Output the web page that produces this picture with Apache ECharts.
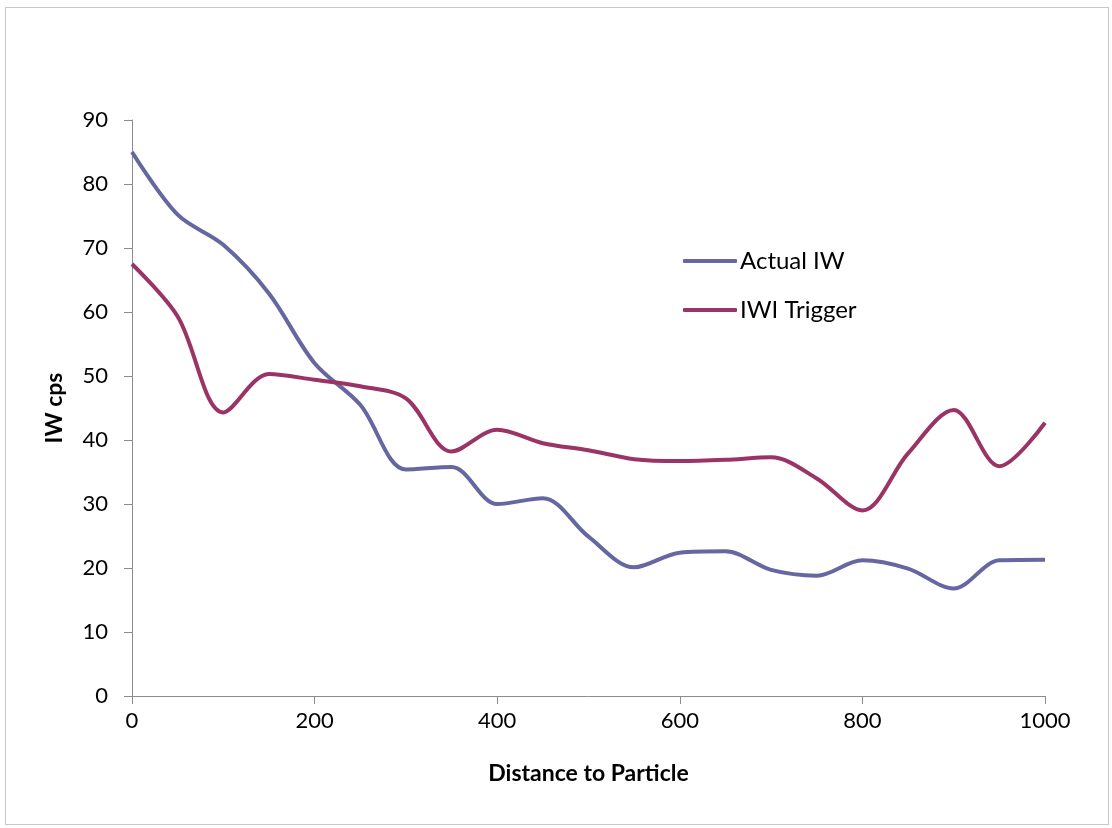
<!DOCTYPE html>
<html>
<head>
<meta charset="utf-8">
<script src="https://cdn.jsdelivr.net/npm/echarts@6/dist/echarts.min.js"></script>
<style>
html,body{margin:0;padding:0;background:#fff;}
#frame{position:absolute;left:5px;top:7px;width:1104px;height:818px;border:1px solid #c8c8c8;box-sizing:border-box;}
#chart{position:absolute;left:0;top:0;width:1112px;height:828px;}
</style>
</head>
<body>
<div id="frame"></div>
<div id="chart"></div>
<script>
const distances = [0,50,100,150,200,250,300,350,400,450,500,550,600,650,700,750,800,850,900,950,1000];
const actualIW = [85.0,75.2,70.5,62.9,52.0,45.5,35.4,35.8,30.0,30.9,24.9,20.1,22.4,22.6,19.7,18.8,21.2,19.9,16.8,21.2,21.3];
const iwiTrigger = [67.5,59.3,44.3,50.3,49.4,48.4,46.5,38.2,41.6,39.5,38.4,37.0,36.7,36.9,37.3,34.0,29.0,37.9,44.7,35.9,42.7];
const seriesNames = ['Actual IW','IWI Trigger'];
const xTicks = {min:0, max:1000, interval:200};
const yTicks = {min:0, max:90, interval:10};

const font = 'Lato, "Open Sans", sans-serif';
const chart = echarts.init(document.getElementById('chart'), null, {renderer:'canvas'});
const pairs = arr => distances.map((d,i)=>[d,arr[i]]);
chart.setOption({
  animation:false,
  backgroundColor:'transparent',
  grid:{left:132,right:67,top:120,bottom:132,containLabel:false},
  legend:{
    orient:'vertical', left:683, top:249, padding:0, itemWidth:54, itemHeight:4, itemGap:25,
    icon:'roundRect',
    textStyle:{fontFamily:font,fontSize:24,color:'#000',padding:[0,0,0,-2]},
    data:seriesNames
  },
  xAxis:{
    type:'value', min:xTicks.min, max:xTicks.max, interval:xTicks.interval,
    name:'Distance to Particle', nameLocation:'middle', nameGap:66,
    nameTextStyle:{fontFamily:font,fontSize:23,fontWeight:'bold',color:'#000'},
    axisLine:{show:true,lineStyle:{color:'#8c8c8c',width:1}},
    axisTick:{show:true,length:8,lineStyle:{color:'#8c8c8c'}},
    axisLabel:{fontFamily:font,fontSize:22,color:'#000',margin:14,formatter:v=>String(v)},
    splitLine:{show:false}
  },
  yAxis:{
    type:'value', min:yTicks.min, max:yTicks.max, interval:yTicks.interval,
    name:'IW cps', nameLocation:'middle', nameGap:66, nameRotate:90,
    nameTextStyle:{fontFamily:font,fontSize:23,fontWeight:'bold',color:'#000'},
    axisLine:{show:true,lineStyle:{color:'#8c8c8c',width:1}},
    axisTick:{show:true,length:8,lineStyle:{color:'#8c8c8c'}},
    axisLabel:{fontFamily:font,fontSize:22,color:'#000',margin:24},
    splitLine:{show:false}
  },
  series:[
    {name:seriesNames[0],type:'line',data:pairs(actualIW),smooth:0.33,symbol:'none',
     lineStyle:{color:'#6667a0',width:4},itemStyle:{color:'#6667a0'}},
    {name:seriesNames[1],type:'line',data:pairs(iwiTrigger),smooth:0.33,symbol:'none',
     lineStyle:{color:'#9b3466',width:4},itemStyle:{color:'#9b3466'}}
  ]
});
</script>
</body>
</html>
